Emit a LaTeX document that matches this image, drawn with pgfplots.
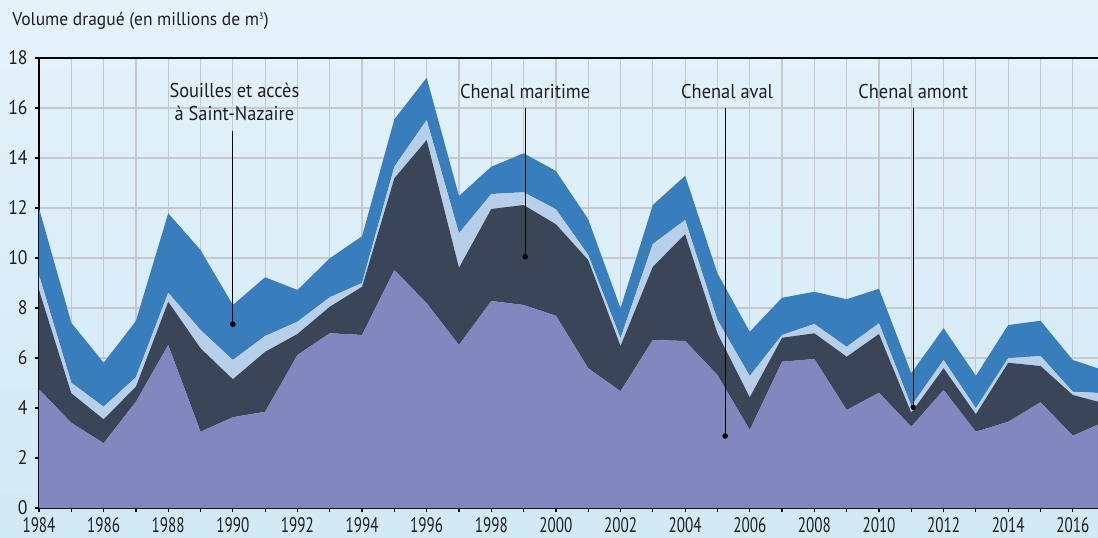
\documentclass[border=0pt]{standalone}
\usepackage{pgfplots}
\usepackage{pgfplotstable}
\pgfplotsset{compat=1.18}
\usepackage{fontspec}
\setmainfont{PT Sans}
\usepackage{graphicx}
\definecolor{bgtop}{HTML}{E4F2FA}
\definecolor{bgbot}{HTML}{D2E9F6}
\definecolor{cpurple}{HTML}{8387BF}
\definecolor{cdark}{HTML}{3A4557}
\definecolor{clight}{HTML}{B8CFEA}
\definecolor{cblue}{HTML}{387EBC}
\definecolor{cgrid}{HTML}{C5C9CD}
\definecolor{ctext}{HTML}{1E1E1E}
\pgfplotstableread{
year P D L B
1984 4.75 3.97 0.60 2.67
1985 3.41 1.18 0.42 2.40
1986 2.59 0.96 0.50 1.76
1987 4.25 0.60 0.38 2.25
1988 6.52 1.73 0.36 3.18
1989 3.05 3.34 0.73 3.20
1990 3.63 1.52 0.77 2.20
1991 3.85 2.40 0.63 2.35
1992 6.12 0.84 0.49 1.27
1993 6.99 1.06 0.38 1.56
1994 6.92 1.93 0.15 1.87
1995 9.52 3.67 0.46 1.90
1996 8.19 6.53 0.80 1.69
1997 6.52 3.09 1.38 1.49
1998 8.28 3.68 0.60 1.09
1999 8.12 4.00 0.51 1.56
2000 7.69 3.66 0.60 1.53
2001 5.59 4.33 0.20 1.43
2002 4.67 1.81 0.31 1.20
2003 6.72 2.93 0.91 1.56
2004 6.68 4.27 0.57 1.77
2005 5.32 1.67 0.53 1.87
2006 3.12 1.31 0.85 1.77
2007 5.85 0.96 0.11 1.49
2008 5.96 1.03 0.37 1.29
2009 3.92 2.13 0.40 1.90
2010 4.61 2.35 0.43 1.38
2011 3.25 0.56 0.27 1.31
2012 4.72 0.87 0.33 1.27
2013 3.05 0.70 0.24 1.30
2014 3.45 2.36 0.18 1.33
2015 4.23 1.45 0.40 1.41
2016 2.89 1.63 0.13 1.27
2017 3.46 0.72 0.41 0.90
}\data
\tikzset{annot/.style={font=\fontsize{10}{11.5}\selectfont, text=ctext, anchor=south},
  adot/.style={circle, fill=black, inner sep=0pt, minimum size=2.8pt}}
\begin{document}
\begin{tikzpicture}[x=1pt,y=1pt]
\useasboundingbox (-19.5,-14.5) rectangle (529.5,254);
\shade[top color=bgtop,bottom color=bgbot] (-19.5,-14.5) rectangle (529.5,254);
\begin{axis}[name=ax, at={(0,0)}, anchor=south west,
  width=529.5pt, height=225pt, scale only axis,
  xmin=1984, xmax=2016.78, ymin=0, ymax=18,
  stack plots=y,
  axis lines=left, axis line style={-, black, line width=0.7pt},
  xtick={1984,1986,...,2016}, minor xtick={1985,1987,...,2017},
  ytick={0,2,...,18},
  grid=both, grid style={cgrid, line width=0.6pt}, minor grid style={cgrid, line width=0.6pt},
  tick align=outside, major tick length=2.2pt, minor tick length=2.2pt,
  tick style={black, line width=0.6pt},
  xticklabel={\scalebox{0.72}[1]{\pgfmathprintnumber[assume math mode=true,1000 sep={}]{\tick}}},
  yticklabel={\scalebox{0.9}[1]{\pgfmathprintnumber[assume math mode=true]{\tick}}},
  x tick label style={font=\fontsize{10.5}{12}\selectfont, text=ctext, yshift=1pt},
  y tick label style={font=\fontsize{9.8}{11}\selectfont, text=ctext},
  clip=true,
]
\addplot[fill=cpurple, draw=none] table[x=year,y=P] {\data} \closedcycle;
\addplot[fill=cdark, draw=none] table[x=year,y=D] {\data} \closedcycle;
\addplot[fill=clight, draw=none] table[x=year,y=L] {\data} \closedcycle;
\addplot[fill=cblue, draw=none] table[x=year,y=B] {\data} \closedcycle;
\coordinate (tl) at (rel axis cs:0,1);
\coordinate (tr) at (rel axis cs:1,1);
\coordinate (a1) at (axis cs:1990,15.1);  \coordinate (b1) at (axis cs:1990,7.35);
\coordinate (t1) at (axis cs:1990.05,15.2);
\coordinate (a2) at (axis cs:1999.05,16.0); \coordinate (b2) at (axis cs:1999.05,10.05);
\coordinate (t2) at (axis cs:1999.05,16.1);
\coordinate (a3) at (axis cs:2005.24,16.0); \coordinate (b3) at (axis cs:2005.24,2.88);
\coordinate (t3) at (axis cs:2005.3,16.1);
\coordinate (a4) at (axis cs:2011.06,16.0); \coordinate (b4) at (axis cs:2011.06,4.03);
\coordinate (t4) at (axis cs:2011.06,16.1);
\end{axis}
\draw[black, line width=0.6pt] (tl) -- (tr);
\draw[black, line width=0.6pt] (a1) -- (b1); \node[adot] at (b1) {};
\draw[black, line width=0.6pt] (a2) -- (b2); \node[adot] at (b2) {};
\draw[black, line width=0.6pt] (a3) -- (b3); \node[adot] at (b3) {};
\draw[black, line width=0.6pt] (a4) -- (b4); \node[adot] at (b4) {};
\node[annot, align=center] at (t1) {\scalebox{0.92}[1]{Souilles et accès}\\\scalebox{0.92}[1]{à Saint-Nazaire}};
\node[annot] at (t2) {\scalebox{0.92}[1]{Chenal maritime}};
\node[annot] at (t3) {\scalebox{0.92}[1]{Chenal aval}};
\node[annot] at (t4) {\scalebox{0.92}[1]{Chenal amont}};
\node[anchor=base west, font=\fontsize{9.2}{11}\selectfont, text=ctext, inner sep=0pt] at ([xshift=-13.5pt,yshift=16pt]ax.north west) {\scalebox{0.95}[1]{Volume dragué (en millions de m\raisebox{3.2pt}{\fontsize{4.5}{5}\selectfont 3})}};
\end{tikzpicture}
\end{document}
